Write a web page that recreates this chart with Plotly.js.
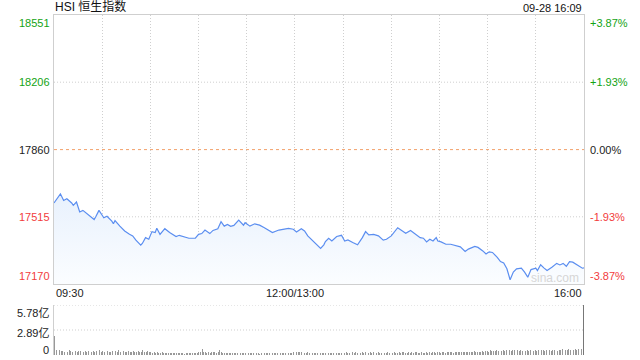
<!DOCTYPE html>
<html>
<head>
<meta charset="utf-8">
<script src="https://cdn.plot.ly/plotly-3.0.1.min.js"></script>
<style>html,body{margin:0;padding:0;background:#fff;}#chart{width:640px;height:360px;}</style>
</head>
<body>
<div id="chart"></div>
<script>
// ---- Data ----
const prevClose = 17860;
const yTickValues = [18551, 18206, 17860, 17515, 17170];
const yTickLabels = ["18551", "18206", "17860", "17515", "17170"];
const pctLabels = ["+3.87%", "+1.93%", "0.00%", "-1.93%", "-3.87%"];
const xTickMinutes = [0, 150, 330];
const xTickLabels = ["09:30", "12:00/13:00", "16:00"];
const volTickValues = [5.78, 2.89, 0];
const volTickLabels = ["5.78亿", "2.89亿", "0"];

// minutes since 09:30 on the trading clock (lunch removed)
const timeMin = [0,4,6,8,11,12,14,16,18,21,23,25,26,28,30,31,33,36,37,38,41,44,47,49,51,54,55,57,59,61,63,64,66,69,72,74,76,78,81,84,88,90,92,94,97,99,102,104,106,108,110,112,115,118,119,122,125,128,131,136,140,146,149,151,154,156,158,161,164,166,168,169,171,173,176,179,181,183,186,189,192,194,196,199,202,205,207,210,214,217,219,222,225,228,230,232,234,236,238,239,241,244,247,250,253,256,258,262,264,267,269,271,273,276,278,280,282,284,286,288,291,293,295,297,300,301,303,305,307,310,313,315,317,319,321,323,326,329,330];
const price = [17586,17633,17599,17608,17586,17574,17591,17540,17548,17527,17510,17501,17515,17548,17523,17510,17518,17493,17479,17496,17467,17442,17425,17417,17395,17369,17378,17408,17400,17439,17434,17456,17425,17454,17434,17422,17414,17420,17412,17405,17405,17425,17429,17447,17429,17445,17454,17490,17467,17476,17466,17471,17498,17472,17485,17467,17479,17472,17459,17434,17447,17456,17451,17437,17454,17442,17417,17391,17366,17353,17371,17388,17405,17391,17414,17420,17391,17396,17383,17371,17408,17439,17422,17425,17417,17395,17400,17417,17459,17439,17430,17445,17425,17408,17405,17386,17400,17391,17408,17391,17386,17374,17374,17369,17361,17337,17349,17363,17358,17340,17324,17335,17332,17307,17285,17278,17248,17192,17231,17248,17251,17231,17205,17244,17251,17239,17269,17253,17239,17256,17276,17268,17276,17261,17285,17282,17268,17251,17253];

// per-minute volume, 亿
const volume = [
2.20,0.52,0.45,0.58,0.44,0.50,0.40,0.47,0.36,0.52,0.43,0.38,0.56,0.45,0.36,0.43,0.50,0.34,0.40,0.47,0.38,0.44,0.57,0.36,0.42,0.35,0.48,0.40,0.53,0.38,
0.44,0.36,0.43,0.50,0.34,0.40,0.47,0.33,0.42,0.36,0.54,0.35,0.40,0.44,0.34,0.38,0.47,0.33,0.39,0.43,0.36,0.34,0.45,0.40,0.35,0.52,0.38,0.36,0.43,0.34,
0.32,0.27,0.30,0.25,0.33,0.28,0.24,0.30,0.26,0.22,0.28,0.25,0.21,0.24,0.20,0.23,0.19,0.22,0.18,0.21,0.20,0.17,0.22,0.19,0.18,0.21,0.24,0.20,0.26,0.23,
0.30,0.35,0.72,0.40,0.33,0.28,0.30,0.26,0.31,0.35,0.29,0.27,0.33,0.55,0.30,0.24,0.21,0.25,0.20,0.23,0.19,0.22,0.20,0.18,0.21,0.23,0.19,0.20,0.22,0.18,
0.21,0.19,0.23,0.20,0.18,0.22,0.19,0.21,0.17,0.20,0.22,0.18,0.21,0.19,0.23,0.20,0.18,0.22,0.19,0.21,0.24,0.20,0.19,0.22,0.26,0.21,0.24,0.28,0.25,0.30,
0.60,0.38,0.33,0.40,0.30,0.36,0.28,0.25,0.30,0.27,0.22,0.26,0.24,0.20,0.23,0.25,0.21,0.19,0.22,0.24,0.20,0.23,0.26,0.22,0.19,0.24,0.28,0.23,0.21,0.25,
0.27,0.23,0.30,0.26,0.22,0.28,0.33,0.25,0.29,0.24,0.31,0.27,0.35,0.26,0.30,0.24,0.28,0.32,0.25,0.29,0.23,0.27,0.31,0.26,0.24,0.30,0.28,0.25,0.33,0.27,
0.30,0.26,0.34,0.28,0.25,0.31,0.27,0.36,0.29,0.24,0.28,0.32,0.26,0.30,0.25,0.29,0.33,0.27,0.24,0.30,0.28,0.26,0.31,0.25,0.29,0.27,0.32,0.30,0.26,0.34,
0.31,0.28,0.35,0.30,0.27,0.33,0.29,0.36,0.31,0.28,0.34,0.30,0.38,0.32,0.29,0.35,0.31,0.40,0.33,0.30,0.37,0.34,0.42,0.36,0.32,0.39,0.35,0.44,0.38,0.41,
0.45,0.40,0.52,0.43,0.48,0.41,0.55,0.46,0.50,0.44,0.58,0.47,0.62,0.80,0.55,0.49,0.60,0.52,0.47,0.56,0.50,0.58,0.45,0.53,0.49,0.57,0.46,0.52,0.60,0.48,
0.55,0.50,0.58,0.47,0.53,0.61,0.49,0.56,0.52,0.60,0.48,0.57,0.54,0.62,0.50,0.58,0.55,0.64,0.52,0.59,0.56,0.66,0.53,0.61,0.58,0.68,0.60,0.72,0.65,0.75,5.78
];
const volMinutes = volume.map((_, i) => i);

// ---- Styles ----
const FONT = "Liberation Sans, Arial, Noto Sans CJK SC, sans-serif";
const GREEN = "#13a313", RED = "#f23c3c", BLACK = "#222";
const labelColors = [GREEN, GREEN, BLACK, RED, RED];
const GRID = "#cfcfcf";

const lineTrace = {
  x: timeMin, y: price, type: "scatter", mode: "lines",
  line: {color: "#5b8ef0", width: 1.2},
  fill: "tozeroy",
  fillgradient: {type: "vertical", start: 17170, stop: 17640,
    colorscale: [[0, "rgba(251,253,255,1)"], [1, "rgba(232,241,253,1)"]]},
  xaxis: "x", yaxis: "y", hoverinfo: "skip"
};
const volTrace = {
  x: volMinutes, y: volume, type: "bar", width: 0.55,
  marker: {color: volume.map((v, i) => i === volume.length - 1 ? "#777" : "#999"), line: {width: 0}},
  xaxis: "x2", yaxis: "y2", hoverinfo: "skip"
};

const gridMinutes = [];
for (let m = 0; m <= 330; m += 30) gridMinutes.push(m);

const shapes = [];
[yTickValues[1], yTickValues[3]].forEach(v => shapes.push({type: "line", xref: "x domain", yref: "y", x0: 0, x1: 1, y0: v, y1: v, line: {color: GRID, width: 1, dash: "1px,2px"}, layer: "below"}));
shapes.push({type: "line", xref: "x domain", yref: "y", x0: 0, x1: 1, y0: prevClose, y1: prevClose, line: {color: "#f2a06a", width: 1, dash: "3px,3px"}});
[volTickValues[0], volTickValues[1]].forEach(v => shapes.push({type: "line", xref: "x2 domain", yref: "y2", x0: 0, x1: 1, y0: v, y1: v, line: {color: GRID, width: 1, dash: "1px,2px"}, layer: "below"}));

const annotations = [];
yTickValues.forEach((v, i) => {
  const anchor = i === 0 ? "top" : (i === yTickValues.length - 1 ? "bottom" : "middle");
  annotations.push({xref: "paper", yref: "y", x: 0, y: v, xanchor: "right", yanchor: anchor, xshift: -2, text: yTickLabels[i], showarrow: false, font: {family: FONT, size: 11, color: labelColors[i]}});
  annotations.push({xref: "paper", yref: "y", x: 1, y: v, xanchor: "left", yanchor: anchor, xshift: 4, text: pctLabels[i], showarrow: false, font: {family: FONT, size: 11, color: labelColors[i]}});
});
xTickMinutes.forEach((m, i) => {
  const xa = i === 0 ? "left" : (i === xTickMinutes.length - 1 ? "right" : "center");
  annotations.push({xref: "x", yref: "paper", x: m, y: 0.2088, xanchor: xa, yanchor: "top", yshift: -1, text: xTickLabels[i], showarrow: false, font: {family: FONT, size: 11, color: BLACK}});
});
volTickValues.forEach((v, i) => {
  const anchor = i === volTickValues.length - 1 ? "bottom" : "top";
  const ys = i === 1 ? 5 : (i === volTickValues.length - 1 ? -3 : 0);
  annotations.push({xref: "paper", yref: "y2", x: 0, y: v, xanchor: "right", yanchor: anchor, xshift: -3, yshift: ys, text: volTickLabels[i], showarrow: false, font: {family: FONT, size: 11, color: BLACK}});
});
annotations.push({xref: "paper", yref: "paper", x: 0, y: 1, xanchor: "left", yanchor: "bottom", xshift: -1, yshift: -1, text: "HSI 恒生指数", showarrow: false, font: {family: FONT, size: 12, color: "#111"}});
annotations.push({xref: "paper", yref: "paper", x: 1, y: 1, xanchor: "right", yanchor: "bottom", yshift: -1, text: "09-28 16:09", showarrow: false, font: {family: FONT, size: 11, color: "#111"}});
annotations.push({xref: "x", yref: "y", x: 328, y: 17170, xanchor: "right", yanchor: "bottom", yshift: -3, text: "sina.com", showarrow: false, font: {family: FONT, size: 12, color: "#d6d6d6"}});

const layout = {
  width: 640, height: 360,
  margin: {l: 54, r: 56, t: 15, b: 5},
  paper_bgcolor: "#fff", plot_bgcolor: "rgba(0,0,0,0)",
  showlegend: false,
  xaxis: {domain: [0, 1], range: [0, 330], tickvals: gridMinutes, showticklabels: false, ticks: "",
    showgrid: true, gridcolor: GRID, griddash: "1px,2px", gridwidth: 1,
    showline: true, mirror: true, linecolor: GRID, linewidth: 1, zeroline: false, fixedrange: true},
  yaxis: {domain: [0.2088, 1], range: [17170, 18551], showticklabels: false, showgrid: false, ticks: "",
    showline: true, mirror: true, linecolor: GRID, linewidth: 1, zeroline: false, fixedrange: true},
  xaxis2: {domain: [0, 1], anchor: "y2", range: [-0.5, 330.5], showticklabels: false, showgrid: false, ticks: "",
    showline: false, zeroline: false, fixedrange: true},
  yaxis2: {domain: [0, 0.147], anchor: "x2", range: [0, 5.78], showticklabels: false, showgrid: false, ticks: "",
    showline: true, linecolor: GRID, linewidth: 1, zeroline: false, fixedrange: true},
  shapes: shapes,
  annotations: annotations,
  bargap: 0
};

Plotly.newPlot("chart", [lineTrace, volTrace], layout, {displayModeBar: false, staticPlot: true});
</script>
</body>
</html>
